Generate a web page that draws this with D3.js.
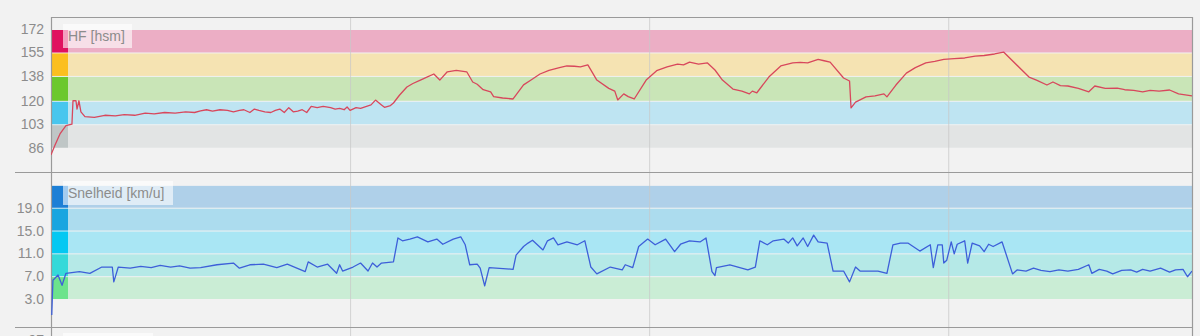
<!DOCTYPE html>
<html>
<head>
<meta charset="utf-8">
<script src="https://cdn.jsdelivr.net/npm/d3@7"></script>
<style>
  html, body { margin: 0; padding: 0; background: #f2f2f2; }
  svg { display: block; font-family: 'Liberation Sans', Arial, sans-serif; }
</style>
</head>
<body>
<svg id="chart" width="1200" height="336"></svg>
<script>
// time in minutes
const hfTime = [0, 0.27, 0.6, 1.0, 1.4, 1.47, 1.67, 1.74, 1.87, 2.0, 2.27, 2.9, 3.6, 4.3, 4.9, 5.6, 6.3, 6.9, 7.6, 8.3, 9.0, 9.6,
  10.0, 10.4, 10.8, 11.3, 11.8, 12.2, 12.6, 12.9, 13.3, 13.6, 13.9, 14.3, 14.7, 15.0, 15.3, 15.6, 15.9, 16.2, 16.5, 16.8, 17.1, 17.4, 17.8, 18.2, 18.7, 19.0, 19.3, 19.6, 19.8, 20.0, 20.4, 20.7, 21.1, 21.4, 21.7, 22.1, 22.3, 22.7, 22.9,
  23.3, 23.8, 24.2, 24.7, 25.1, 25.6, 26.0, 26.5, 27.1, 27.8, 28.2, 28.5, 28.9, 29.4, 29.6, 30.2, 30.9,
  31.6, 32.1, 32.7, 33.3, 34.0, 34.5, 35.0, 35.4, 35.9, 36.5, 37.3, 37.7, 37.9, 38.3, 38.6, 39.0,
  39.8, 40.5, 41.2, 41.9, 42.3, 42.7, 43.3, 43.9, 44.4, 44.9, 45.6, 46.2, 46.7, 46.9, 47.2, 48.0,
  48.8, 49.6, 50.1, 50.6, 51.3, 51.7, 52.1, 53.0, 53.4, 53.5, 53.8, 54.5, 55.1, 55.7, 55.9, 56.5,
  57.2, 57.8, 58.5, 59.1, 59.7, 60.4, 61.1, 61.8, 62.4, 63.1, 63.7,
  65.4, 65.9, 66.6, 67.0, 67.5, 68.0, 68.7, 69.4, 69.8, 70.5, 71.3, 71.8, 72.4, 73.0, 73.5, 74.1, 74.8, 75.4, 76.3]
const hfValues = [80.8, 88, 96, 102, 103, 120, 120, 114, 120, 112, 108.5, 108, 109.5, 109, 110, 109.5, 111, 110.5, 111.5, 111, 112, 111.5,
  112.6, 113.5, 112.5, 113.5, 113, 112, 113, 113.5, 111.5, 114, 113, 112, 111.5, 113, 114, 111.5, 115, 112, 112.5, 113.5, 111.5, 116, 115, 116, 115, 114, 114.5, 113.5, 115.5, 113, 115, 114.5, 116, 117, 120.5, 117, 115.3, 116.5, 118.4,
  124, 130, 132.5, 135, 137, 139.4, 135, 141, 142, 141, 133.6, 132, 128, 126.5, 123, 122, 121.3,
  131.5, 135, 139.4, 142, 144, 145.2, 145, 144.5, 146, 135, 129, 127, 120.6, 125, 123, 121.3,
  135, 141.8, 144.5, 146.6, 146, 148, 146.6, 147.4, 142.3, 135, 128.5, 127, 125, 127, 125.8, 137.2,
  145.2, 147.4, 147.8, 147.4, 150, 149, 148, 136.5, 134.3, 114.8, 119, 122.8, 123.5, 125, 122.8, 131.4,
  140, 144, 147.4, 148.5, 150, 150.5, 151, 152.4, 152.8, 153.9, 155.3,
  137.2, 135, 131.4, 133.6, 131, 130.7, 129, 126.5, 130.7, 129, 129.2, 128, 127.5, 126.5, 127.5, 127, 127.8, 125, 123.5]

const speedTime = [0.05, 0.13, 0.47, 0.74, 1.0, 1.9, 2.6, 3.4, 4.1, 4.2, 4.5, 5.3, 6.0, 6.7, 7.3, 8.0, 8.6, 9.3,
  10.0, 11.1, 12.2, 12.6, 13.3, 14.2, 15.1, 15.8, 17.0, 17.2, 17.8, 18.5, 19.1, 19.3, 19.5, 20.2, 20.7, 21.2, 21.5, 21.8, 22.1, 22.9,
  23.2, 23.5, 24.0, 24.5, 25.2, 25.8, 26.2, 26.9, 27.4, 27.7, 28.0, 28.5, 28.7, 29.0, 29.3, 30.9,
  31.1, 31.6, 31.9, 32.2, 32.9, 33.2, 33.6, 33.9, 34.5, 35.2, 35.7, 36.1, 36.5, 37.4, 38.2, 38.4, 38.9,
  39.3, 39.9, 40.4, 41.1, 41.7, 42.1, 42.7, 43.4, 43.8, 44.2, 44.4, 44.5, 45.4, 46.6, 47.1,
  47.4, 47.9, 48.3, 49.0, 49.3, 49.6, 49.9, 50.3, 50.6, 51.0, 51.3, 51.9, 52.3, 53.0, 53.4, 53.8, 54.1, 55.3, 55.9,
  56.3, 56.8, 57.3, 58.1, 58.8, 59.0, 59.3, 59.6, 59.7, 59.9, 60.2, 60.4, 60.6, 61.1, 61.3, 61.6, 62.1, 62.4, 62.7, 63.0, 63.6,
  64.3, 64.6, 65.2, 65.7, 66.2, 66.8, 67.4, 68.0, 68.7, 69.4, 69.6, 70.1, 70.6, 71.0, 71.6, 72.2, 72.6, 73.0, 73.5, 74.2, 74.8, 75.2, 75.7, 76.0, 76.3]
const speedValues = [0.2, 6.3, 7.2, 5.4, 7.5, 7.8, 7.5, 8.6, 8.6, 6.0, 8.6, 8.4, 8.7, 8.5, 8.9, 8.6, 8.8, 8.4,
  8.5, 9.0, 9.3, 8.4, 9.0, 9.1, 8.5, 9.1, 7.8, 9.5, 8.6, 9.1, 7.5, 9.0, 7.9, 8.6, 9.3, 7.9, 9.3, 8.6, 9.3, 9.5,
  13.7, 13.2, 13.5, 13.9, 13.0, 13.5, 12.6, 13.5, 13.9, 12.5, 9.0, 9.1, 8.4, 5.3, 8.5, 8.2,
  10.7, 12.2, 12.8, 13.3, 11.6, 13.2, 13.7, 12.5, 13.0, 12.5, 13.2, 8.6, 7.4, 8.6, 8.1, 9.0, 8.5,
  12.2, 13.5, 12.5, 13.5, 11.3, 12.6, 13.2, 13.0, 13.7, 7.8, 7.1, 8.5, 9.0, 8.1, 8.6,
  13.2, 12.5, 13.2, 13.5, 12.8, 13.7, 12.3, 13.7, 12.2, 14.2, 13.0, 12.8, 7.9, 7.9, 6.0, 8.6, 7.9, 7.9, 7.5,
  12.5, 12.8, 12.8, 11.4, 12.5, 8.5, 12.5, 12.5, 9.3, 9.8, 13.0, 10.9, 12.6, 13.2, 9.3, 12.8, 12.3, 11.3, 12.6, 12.2, 13.0,
  7.4, 8.1, 7.9, 8.4, 8.0, 7.8, 8.1, 7.9, 8.2, 9.0, 7.5, 8.2, 7.9, 7.4, 8.0, 8.1, 7.7, 8.2, 7.9, 8.4, 7.7, 8.1, 8.2, 6.9, 7.9]

const hfTicks = [172, 155, 138, 120, 103, 86]
const speedTicks = [19, 15, 11, 7, 3]
const hfZones = [[86, 103], [103, 120], [120, 138], [138, 155], [155, 172]]
const speedZones = [[3, 7], [7, 11], [11, 15], [15, 19], [19, 23]]
const gridMinutes = [20, 40, 60]

const hfBandColors = ['#e2e4e4', '#bee4f2', '#c9e5b7', '#f5e3b2', '#ecaec5']
const hfStripColors = ['#bfc6c6', '#48c6ee', '#6cc82d', '#fbbf1f', '#e0115f']
const speedBandColors = ['#caedd5', '#b5e9e7', '#a9e6f4', '#acdcee', '#afd0e9']
const speedStripColors = ['#6ce38c', '#35d9d9', '#04c8f2', '#19a5e0', '#1c7fd6']

const left = 51
const right = 1192
const svg = d3.select('#chart')

const x = d3.scaleLinear().domain([0, 76.3]).range([left, right])
const yHf = d3.scaleLinear().domain([86, 172]).range([147.7, 29])
const ySpeed = d3.scaleLinear().domain([3, 19]).range([299, 207.7])

svg.append('clipPath').attr('id', 'plot-clip')
  .append('rect').attr('x', left).attr('y', 17).attr('width', right - left).attr('height', 319)

/**
 * Draws the coloured zone bands with the strip on the left.
 */
function drawZones (zones, y, bandColors, stripColors) {
  const g = svg.append('g')
  g.selectAll('.band')
    .data(zones)
    .join('rect')
    .attr('class', 'band')
    .attr('x', left)
    .attr('y', d => y(d[1]) + 1)
    .attr('width', right - left)
    .attr('height', d => y(d[0]) - y(d[1]) - 1)
    .attr('fill', (d, i) => bandColors[i])
  g.selectAll('.strip')
    .data(zones)
    .join('rect')
    .attr('class', 'strip')
    .attr('x', left)
    .attr('y', d => y(d[1]) + 1)
    .attr('width', 17)
    .attr('height', d => y(d[0]) - y(d[1]) - 1)
    .attr('fill', (d, i) => stripColors[i])
}

drawZones(hfZones, yHf, hfBandColors, hfStripColors)
drawZones(speedZones, ySpeed, speedBandColors, speedStripColors)

// vertical grid lines
svg.append('g')
  .selectAll('line')
  .data(gridMinutes)
  .join('line')
  .attr('x1', d => x(d) + 0.5)
  .attr('x2', d => x(d) + 0.5)
  .attr('y1', 17)
  .attr('y2', 336)
  .attr('stroke', '#c8c8c8')
  .attr('stroke-opacity', 0.75)

// frame lines
const frame = svg.append('g').attr('stroke', '#9a9a9a').attr('stroke-width', 1.2)
frame.append('line').attr('x1', left).attr('x2', right).attr('y1', 17.5).attr('y2', 17.5)
frame.append('line').attr('x1', 15).attr('x2', right).attr('y1', 172.5).attr('y2', 172.5)
frame.append('line').attr('x1', 15).attr('x2', right).attr('y1', 327.5).attr('y2', 327.5)
frame.append('line').attr('x1', left + 0.5).attr('x2', left + 0.5).attr('y1', 17).attr('y2', 336)
frame.append('line').attr('x1', right + 0.5).attr('x2', right + 0.5).attr('y1', 17).attr('y2', 336)

// lines
const hfLine = d3.line().x((d, i) => x(hfTime[i])).y(d => yHf(d))
svg.append('path')
  .datum(hfValues)
  .attr('clip-path', 'url(#plot-clip)')
  .attr('d', hfLine)
  .attr('fill', 'none')
  .attr('stroke', '#d8475c')
  .attr('stroke-width', 1.3)
  .attr('stroke-linejoin', 'round')

const speedLine = d3.line().x((d, i) => x(speedTime[i])).y(d => ySpeed(d))
svg.append('path')
  .datum(speedValues)
  .attr('clip-path', 'url(#plot-clip)')
  .attr('d', speedLine)
  .attr('fill', 'none')
  .attr('stroke', '#3d5fd9')
  .attr('stroke-width', 1.3)
  .attr('stroke-linejoin', 'round')

// y axes
function styleAxis (g) {
  g.select('.domain').remove()
  g.selectAll('text')
    .attr('fill', '#8c8c8c')
    .style('font-size', '14px')
    .style('font-family', "'Liberation Sans', Arial, sans-serif")
}

svg.append('g')
  .attr('transform', `translate(${left},0)`)
  .call(d3.axisLeft(yHf).tickValues(hfTicks).tickSize(0).tickPadding(7).tickFormat(d3.format('d')))
  .call(styleAxis)

svg.append('g')
  .attr('transform', `translate(${left},0)`)
  .call(d3.axisLeft(ySpeed).tickValues(speedTicks).tickSize(0).tickPadding(7).tickFormat(d3.format('.1f')))
  .call(styleAxis)

// panel titles
function panelTitle (label, top, boxWidth) {
  svg.append('rect')
    .attr('x', 63)
    .attr('y', top)
    .attr('width', boxWidth)
    .attr('height', 24)
    .attr('fill', '#ffffff')
    .attr('fill-opacity', 0.6)
  svg.append('text')
    .attr('x', 68)
    .attr('y', top + 17)
    .attr('fill', '#8c8c8c')
    .style('font-size', '14px')
    .text(label)
}

panelTitle('HF [hsm]', 24, 69)
panelTitle('Snelheid [km/u]', 181, 110)

// start of the next panel, cut off by the window
svg.append('rect').attr('x', 63).attr('y', 333).attr('width', 90).attr('height', 10).attr('fill', '#ffffff').attr('fill-opacity', 0.6)
svg.append('text').attr('x', 44).attr('y', 345).attr('text-anchor', 'end').attr('fill', '#8c8c8c').style('font-size', '14px').text('97')
</script>
</body>
</html>
